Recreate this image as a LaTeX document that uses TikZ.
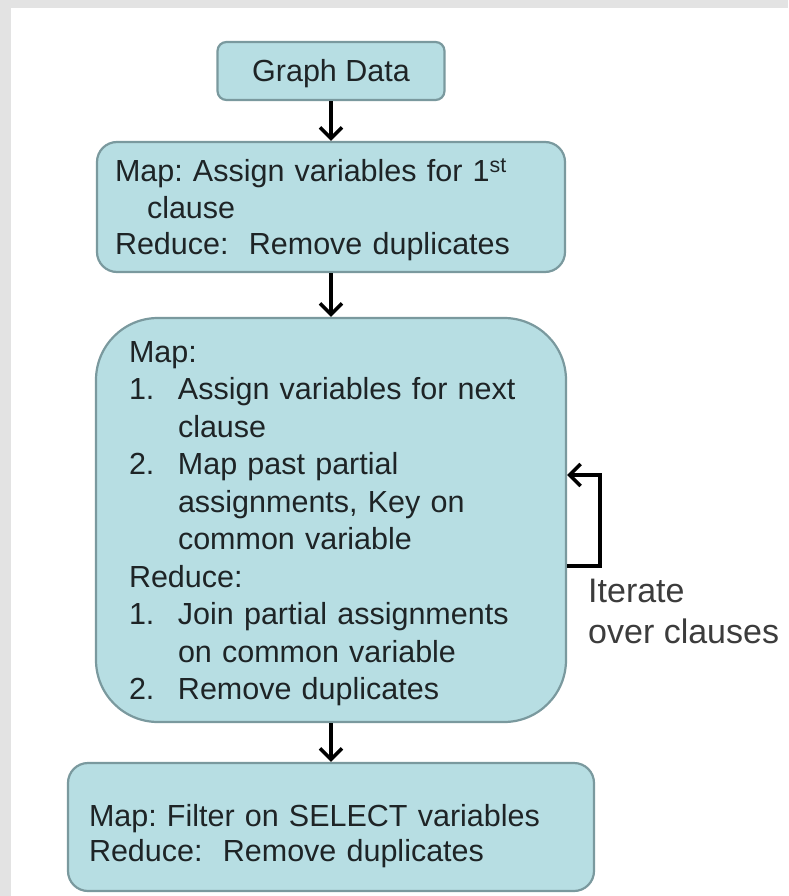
\documentclass[tikz,border=0pt]{standalone}
\usepackage{fontspec}
\setmainfont{Liberation Sans}
\usetikzlibrary{arrows.meta}
\definecolor{boxfill}{HTML}{B7DEE3}
\definecolor{boxline}{HTML}{7A999E}
\definecolor{txt}{HTML}{1E2426}
\definecolor{lbltxt}{HTML}{3C3C3C}
\definecolor{framegray}{HTML}{E3E3E3}
\newcommand{\numitem}[1]{\makebox[49pt][l]{#1}}
\newcommand{\contline}{\hspace*{49pt}}
\frenchspacing
\begin{document}
\begin{tikzpicture}[x=1pt,y=-1pt,
  flowbox/.style={draw=boxline, fill=boxfill, line width=2.2pt, text=txt,
    align=left, inner ysep=0pt},
  flow/.style={line width=3.5pt, -{Straight Barb[length=11pt,width=22pt]}},
]
% page and grey frame strips
\path[use as bounding box] (0,0) rectangle (788,896);
\fill[white] (0,0) rectangle (788,896);
\fill[framegray] (0,0) rectangle (788,8);
\fill[framegray] (0,0) rectangle (11,896);

% input
\node[flowbox, align=center, rounded corners=9pt, minimum width=227pt,
  minimum height=58pt, text height=28pt, text depth=6pt,
  font=\fontsize{30.5}{36}\selectfont] (g1) at (331,71) {Graph Data};

% first clause (depth = two line steps + last descender)
\node[flowbox, rounded corners=20pt, minimum width=468pt, minimum height=130pt,
  text width=432pt, inner xsep=18pt, text height=30pt, text depth=80pt,
  font=\fontsize{30.5}{36.5}\selectfont] (b2) at (331,207)
  {Map: Assign variables for 1\textsuperscript{st}\\
   \hspace*{32pt}clause\\
   Reduce:\ \ Remove duplicates};

% iterated join step (depth = nine line steps + last descender)
\node[flowbox, rounded corners=62pt, minimum width=470pt, minimum height=404pt,
  text width=404pt, inner xsep=33pt, text height=28pt, text depth=344pt,
  font=\fontsize{30.5}{37.5}\selectfont] (b3) at (331,520)
  {Map:\\
   \numitem{1.}Assign variables for next\\
   \contline clause\\
   \numitem{2.}Map past partial\\
   \contline assignments, Key on\\
   \contline common variable\\
   Reduce:\\
   \numitem{1.}Join partial assignments\\
   \contline on common variable\\
   \numitem{2.}Remove duplicates};

% final projection
\node[flowbox, rounded corners=20pt, minimum width=526pt, minimum height=128pt,
  text width=484pt, inner xsep=21pt, text height=40pt, text depth=42pt,
  font=\fontsize{30.5}{35}\selectfont] (b4) at (331,827)
  {Map: Filter on SELECT variables\\
   Reduce:\ \ Remove duplicates};

% flow arrows
\draw[flow] (g1) -- (b2);
\draw[flow] (b2) -- (b3);
\draw[flow] (b3) -- (b4);

% loop back over clauses (label anchored on its last baseline)
\draw[flow] ([yshift=-46pt]b3.east) -- ++(33,0) |- ([yshift=45pt]b3.east);
\node[anchor=base west, align=left, inner sep=0pt, text=lbltxt,
  font=\fontsize{34}{41}\selectfont] (iter) at (588,643)
  {Iterate\\over clauses};
\end{tikzpicture}
\end{document}
